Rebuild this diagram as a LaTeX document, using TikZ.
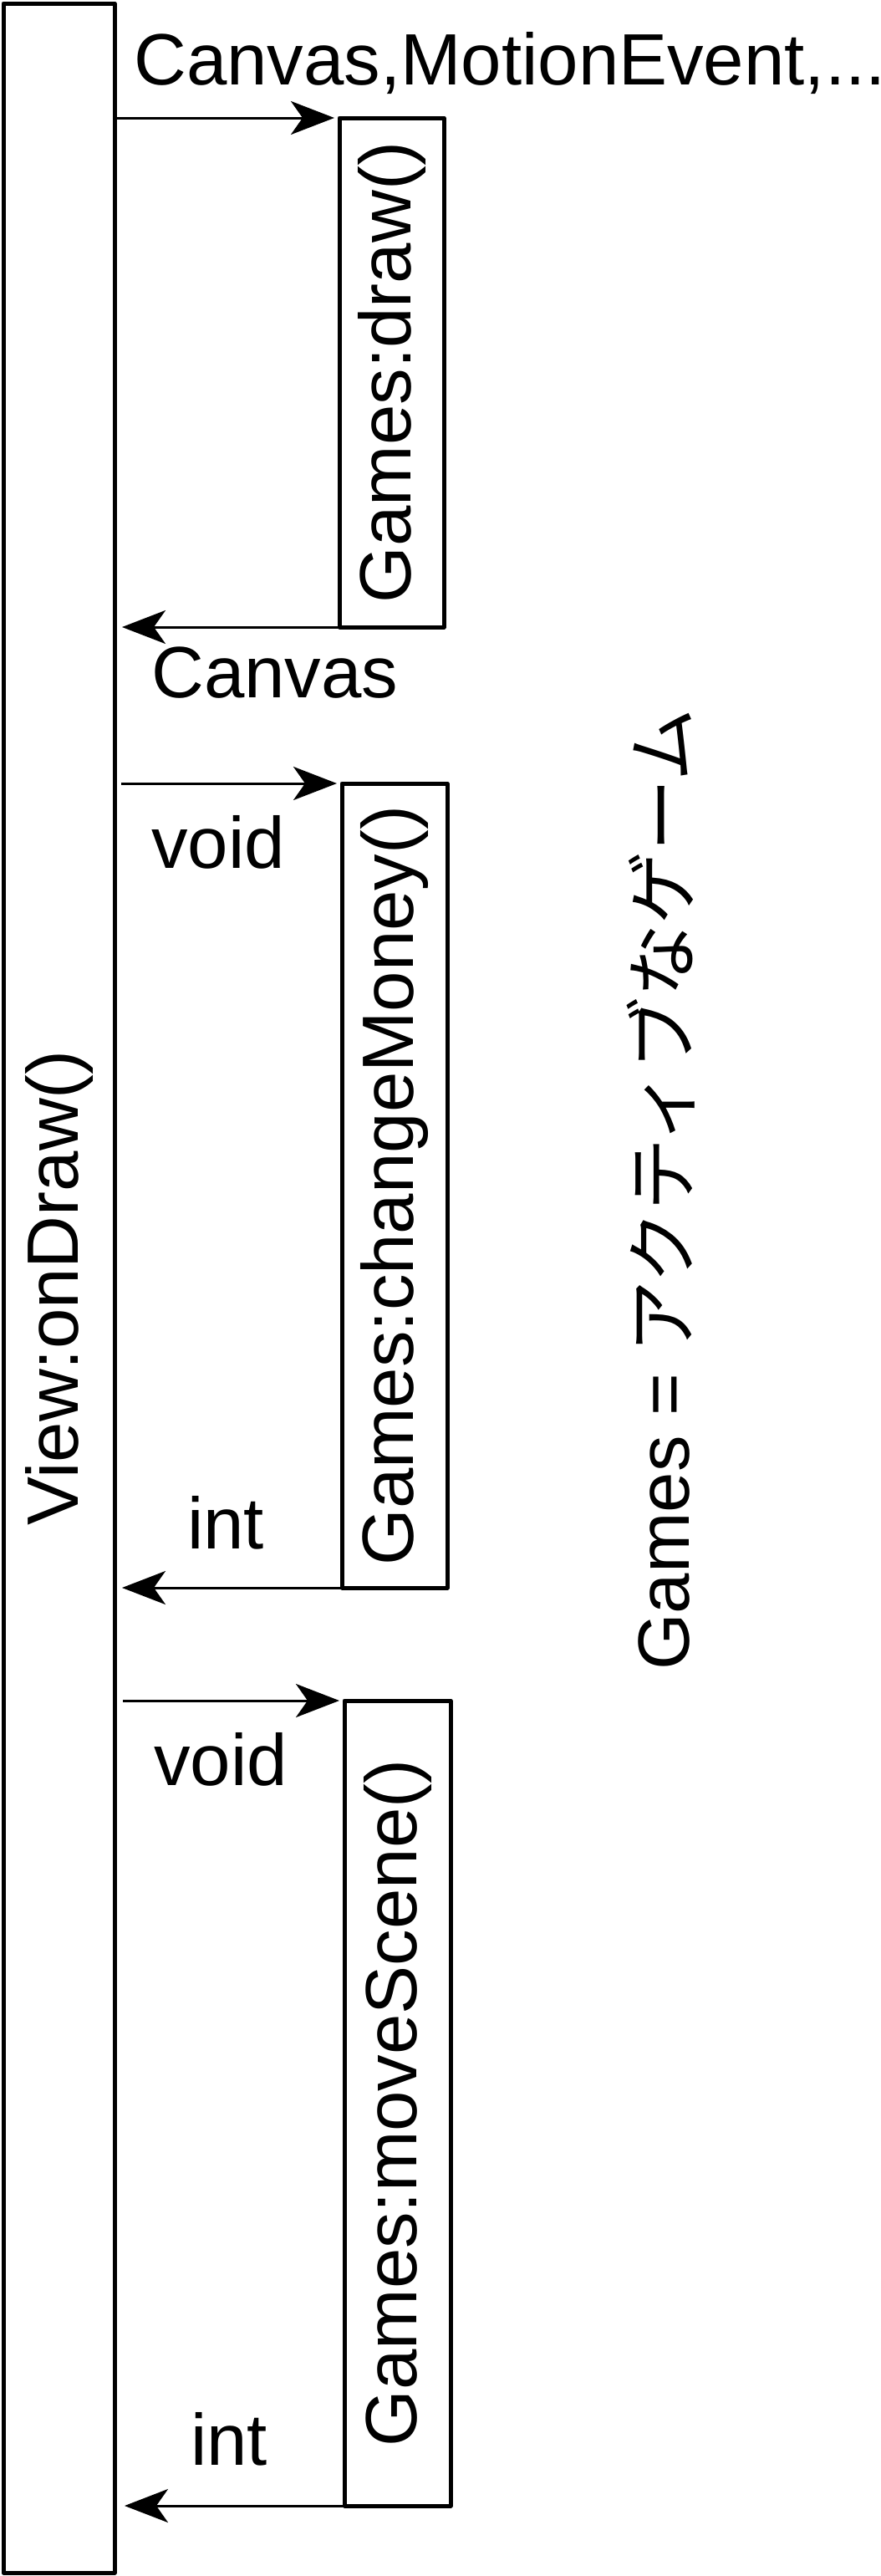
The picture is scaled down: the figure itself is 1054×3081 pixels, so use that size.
\documentclass[tikz,border=0pt]{standalone}
\usepackage{fontspec}
\setmainfont{Liberation Sans}
\newfontfamily\jpfont{Noto Sans CJK JP}
\usetikzlibrary{arrows.meta}

\tikzset{
  lifebox/.style={draw, line width=5pt, line join=round, rotate=90, inner sep=0pt, outer sep=0pt},
  msgcall/.style={line width=3pt, shorten >=6pt, -{Stealth[length=52pt,width=40pt,inset=14pt]}},
  msgret/.style={msgcall, shorten >=9pt},
  msglabel/.style={anchor=base west, inner sep=0pt},
}

\begin{document}
\begin{tikzpicture}[x=1pt, y=-1pt, font=\fontsize{87}{100}\selectfont]
  \useasboundingbox (0,0) rectangle (1054,3081);

  % lifeline and activations
  \node[lifebox, minimum width=3073pt, minimum height=133pt] (view) at (70.5,1540.5) {View:onDraw()};
  \node[lifebox, minimum width=609pt, minimum height=125pt] (drawbox) at (468.5,445.5) {Games:draw()};
  \node[lifebox, minimum width=962pt, minimum height=126pt] (moneybox) at (472,1418) {Games:changeMoney()};
  \node[lifebox, minimum width=963pt, minimum height=127pt] (scenebox) at (475.5,2515.5) {Games:moveScene()};

  % messages
  \draw[msgcall] (view.south |- drawbox.north east) -- (drawbox.north east);
  \draw[msgret] (drawbox.north west) -- (view.south |- drawbox.north west);
  \draw[msgcall, shorten <=8pt] (view.south |- moneybox.north east) -- (moneybox.north east);
  \draw[msgret] (moneybox.north west) -- (view.south |- moneybox.north west);
  \draw[msgcall, shorten <=10pt] (view.south |- scenebox.north east) -- (scenebox.north east);
  \draw[msgret, shorten >=12pt] (scenebox.north west) -- (view.south |- scenebox.north west);

  \node[msglabel] (argslbl) at (160,101) {Canvas,MotionEvent,...};
  \node[msglabel] (canvaslbl) at (181,834) {Canvas};
  \node[msglabel] (voidlbla) at (181,1038) {void};
  \node[msglabel] (intlbla) at (224,1852) {int};
  \node[msglabel] (voidlblb) at (184,2135) {void};
  \node[msglabel] (intlblb) at (228,2948) {int};

  % note
  \node[msglabel, rotate=90] (gamesnote) at (824,1998) {Games = {\jpfont アクティブなゲーム}};
\end{tikzpicture}
\end{document}
